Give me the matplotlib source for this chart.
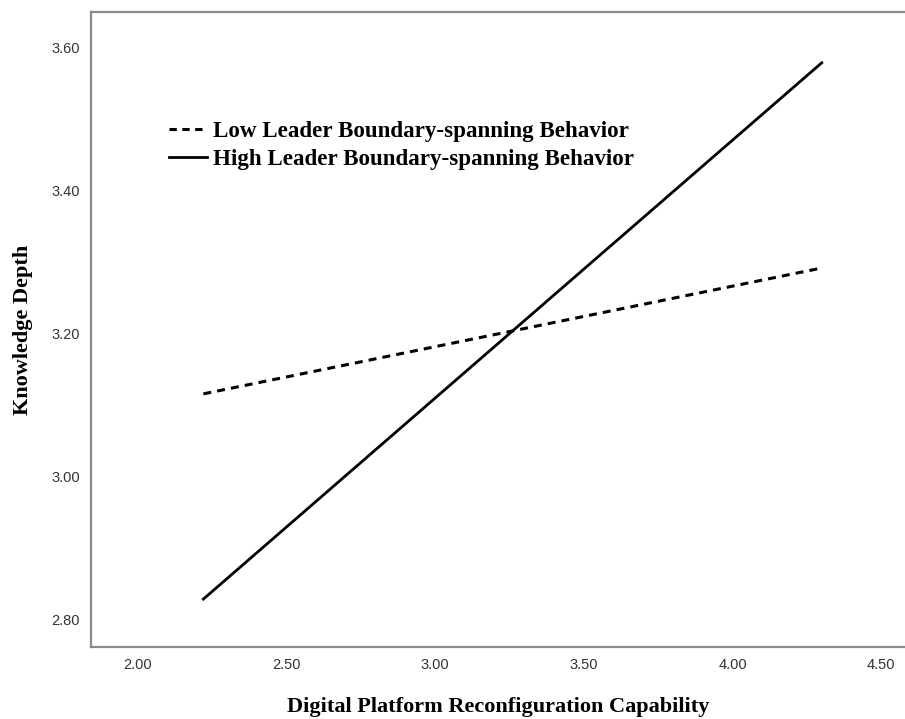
import matplotlib
matplotlib.use("Agg")
import matplotlib.pyplot as plt
from matplotlib.lines import Line2D

# Data (simple slopes)
x_vals = [2.22, 4.30]
low_vals = [3.115, 3.291]
high_vals = [2.828, 3.578]
series_labels = ["Low Leader Boundary-spanning Behavior",
                 "High Leader Boundary-spanning Behavior"]
x_ticks = [2.00, 2.50, 3.00, 3.50, 4.00, 4.50]
y_ticks = [2.80, 3.00, 3.20, 3.40, 3.60]

fig = plt.figure(figsize=(9.05, 7.19), dpi=100)
ax = fig.add_axes([91/905, 1-647/719, 1-91/905, (647-12)/719])

ax.plot(x_vals, low_vals, color="black", lw=2.2, ls=(0, (2.6, 2.0)), dash_capstyle="butt")
ax.plot(x_vals, high_vals, color="black", lw=2.0)

ax.set_xlim(1.842, 4.58)
ax.set_ylim(2.761, 3.649)
ax.set_xticks(x_ticks)
ax.set_xticklabels([f"{v:.2f}" for v in x_ticks])
ax.set_yticks(y_ticks)
ax.set_yticklabels([f"{v:.2f}" for v in y_ticks])
ax.tick_params(length=0, labelsize=10.5, labelcolor="#333333", pad=8)
for lab in ax.get_xticklabels() + ax.get_yticklabels():
    lab.set_family("Liberation Sans")

for s in ["left", "bottom", "top"]:
    ax.spines[s].set_color("#8a8a8a")
    ax.spines[s].set_linewidth(1.6)
ax.spines["right"].set_visible(False)

ax.set_xlabel("Digital Platform Reconfiguration Capability", family="Liberation Serif",
              fontweight="bold", fontsize=16, labelpad=18)
ax.set_ylabel("Knowledge Depth", family="Liberation Serif", fontweight="bold",
              fontsize=16, labelpad=13)

handles = [Line2D([], [], color="black", lw=2.2, ls=(0, (2.4, 1.8))),
           Line2D([], [], color="black", lw=2.0)]
leg = ax.legend(handles, series_labels, loc="upper left", bbox_to_anchor=(0.085, 0.843),
                frameon=False, handlelength=1.65, handletextpad=0.25, labelspacing=0.3,
                borderaxespad=0.0,
                prop={"family": "Liberation Serif", "weight": "bold", "size": 16.6})

fig.savefig("out.png", dpi=100)
